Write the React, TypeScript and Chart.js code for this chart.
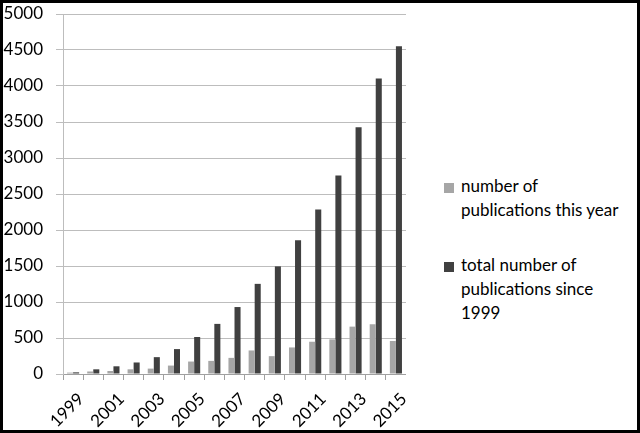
import { useEffect, useRef } from "react"
import { Chart, registerables } from "chart.js"

Chart.register(...registerables)

const years = [
  "1999", "2000", "2001", "2002", "2003", "2004", "2005", "2006", "2007",
  "2008", "2009", "2010", "2011", "2012", "2013", "2014", "2015",
]
const perYear = [19, 35, 42, 65, 75, 117, 173, 182, 224, 327, 248, 369, 448, 481, 658, 691, 458]
const cumulative = [23, 65, 107, 160, 234, 346, 514, 696, 930, 1252, 1495, 1857, 2285, 2758, 3427, 4105, 4551]
const legendLines = [
  ["number of", "publications this year"],
  ["total number of", "publications since", "1999"],
]
const colors = ["#a6a6a6", "#404040"]
const FONT = "Lato, 'Open Sans', sans-serif"

export default function App() {
  const chartRef = useRef<HTMLCanvasElement>(null)
  const chartInstance = useRef<Chart | null>(null)

  useEffect(() => {
    if (!chartRef.current) return
    document.body.style.margin = "0"

    if (chartInstance.current) {
      chartInstance.current.destroy()
    }

    const ctx = chartRef.current.getContext("2d")
    if (ctx) {
      chartInstance.current = new Chart(ctx, {
        type: "bar",
        data: {
          labels: years,
          datasets: [
            {
              label: legendLines[0].join(" "),
              data: perYear,
              backgroundColor: colors[0],
              categoryPercentage: 0.6,
              barPercentage: 1,
            },
            {
              label: legendLines[1].join(" "),
              data: cumulative,
              backgroundColor: colors[1],
              categoryPercentage: 0.6,
              barPercentage: 1,
            },
          ],
        },
        options: {
          responsive: true,
          maintainAspectRatio: false,
          animation: false,
          layout: { padding: { left: 0, top: 11, right: 0, bottom: 0 } },
          scales: {
            x: {
              afterFit: (scale) => {
                // fixed axis band so the plot lands where the original does
                scale.height = 56
                scale.paddingLeft = 0
                scale.paddingRight = 0
              },
              grid: {
                offset: true,
                drawOnChartArea: false,
                drawTicks: true,
                tickLength: 6,
                color: "#a0a0a0",
              },
              border: { color: "#a0a0a0" },
              ticks: {
                autoSkip: false,
                minRotation: 45,
                maxRotation: 45,
                color: "#000",
                padding: 9,
                labelOffset: 8,
                font: { family: FONT, size: 17 },
                callback: (_value, index) => (index % 2 === 0 ? years[index] : ""),
              },
            },
            y: {
              min: 0,
              max: 5000,
              afterFit: (scale) => {
                scale.width = 60
                scale.paddingTop = 0
                scale.paddingBottom = 0
              },
              grid: {
                color: "#bdbdbd",
                tickLength: 7,
              },
              border: { color: "#bdbdbd" },
              ticks: {
                stepSize: 500,
                color: "#000",
                padding: 13,
                font: { family: FONT, size: 17 },
                callback: (value) => String(value),
              },
            },
          },
          plugins: {
            legend: { display: false },
            tooltip: { enabled: false },
          },
        },
      })
    }

    return () => {
      if (chartInstance.current) {
        chartInstance.current.destroy()
        chartInstance.current = null
      }
    }
  }, [])

  return (
    <div
      style={{
        position: "absolute",
        left: 0,
        top: 0,
        width: 640,
        height: 433,
        boxSizing: "border-box",
        border: "3px solid #000",
        background: "#fff",
        fontFamily: FONT,
        overflow: "hidden",
      }}
    >
      <div style={{ position: "absolute", left: 0, top: 0, width: 403, height: 427 }}>
        <canvas ref={chartRef}></canvas>
      </div>
      <div style={{ position: "absolute", left: 441, top: 171 }}>
        {legendLines.map((lines, i) => (
          <div key={i} style={{ position: "relative", marginBottom: 31, paddingLeft: 17 }}>
            <span
              style={{
                position: "absolute",
                left: 0,
                top: 9,
                width: 10,
                height: 10,
                background: colors[i],
              }}
            />
            {lines.map((line, j) => (
              <div key={j} style={{ fontSize: 17, lineHeight: "24px", color: "#000", whiteSpace: "nowrap" }}>
                {line}
              </div>
            ))}
          </div>
        ))}
      </div>
    </div>
  )
}
